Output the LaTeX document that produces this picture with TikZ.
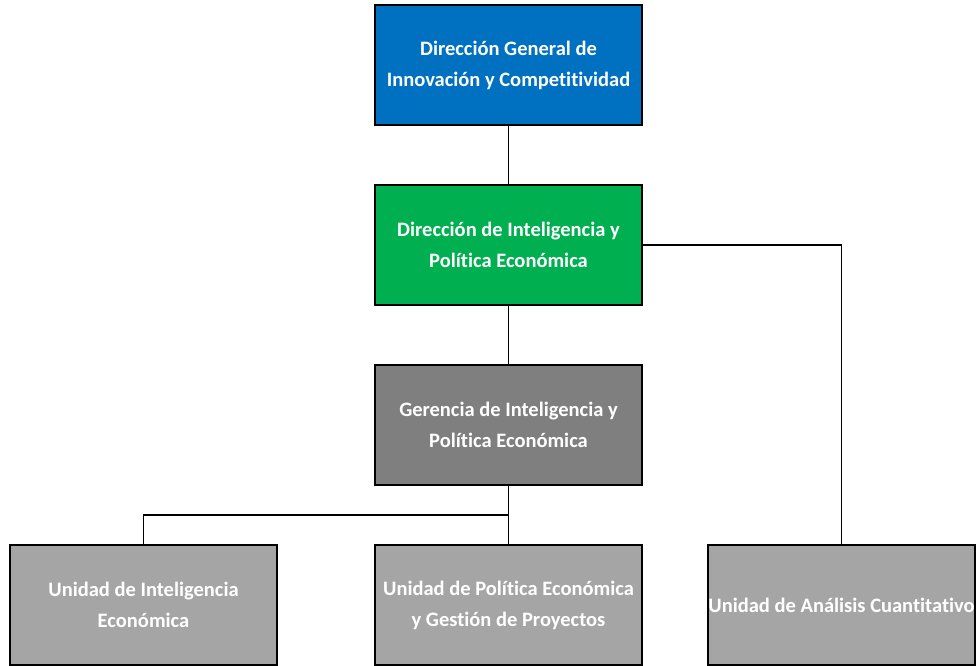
\documentclass[tikz,border=0pt]{standalone}
\usepackage{fontspec}
\setmainfont{Carlito}[Ligatures=NoCommon]
\usepackage{tikz}
\usetikzlibrary{positioning}

\definecolor{azulDir}{HTML}{0070C0}
\definecolor{verdeDir}{HTML}{00B050}
\definecolor{grisGer}{HTML}{7F7F7F}
\definecolor{grisUni}{HTML}{A5A5A5}

\begin{document}
\begin{tikzpicture}
[
	x=1pt, y=1pt,
	unidad/.style = {rectangle, draw=black, line width=1.8pt, minimum width=267pt, minimum height=120pt,
		inner sep=0pt, outer sep=0pt, text=white, align=center,
		font=\fontsize{20.5}{31}\selectfont\bfseries},
	linea/.style = {-, line width=1.8pt}
]
\useasboundingbox (0,0) rectangle (979,-665);

\node[unidad, fill=azulDir] (dgic) at (508.5,-65) {Dirección General de\\Innovación y Competitividad};
\node[unidad, fill=verdeDir, below = 60pt of dgic] (dipe) {Dirección de Inteligencia y\\Política Económica};
\node[unidad, fill=grisGer, below = 60pt of dipe] (gipe) {Gerencia de Inteligencia y\\Política Económica};

\node[unidad, fill=grisUni, below = 60pt of gipe] (upegp) {Unidad de Política Económica\\y Gestión de Proyectos};
\node[unidad, fill=grisUni] (uie) at (143.5,-605) {Unidad de Inteligencia\\Económica};
\node[unidad, fill=grisUni] (uac) at (841.5,-605) {Unidad de Análisis Cuantitativo};

\draw[linea] (dgic.south) -- (dipe.north);
\draw[linea] (dipe.south) -- (gipe.north);
\draw[linea] (dipe.east) -| (uac.north);
\draw[linea] (gipe.south) -- (upegp.north);
\draw[linea] (gipe.south) -- ++(0,-30) -| (uie.north);

\end{tikzpicture}
\end{document}
